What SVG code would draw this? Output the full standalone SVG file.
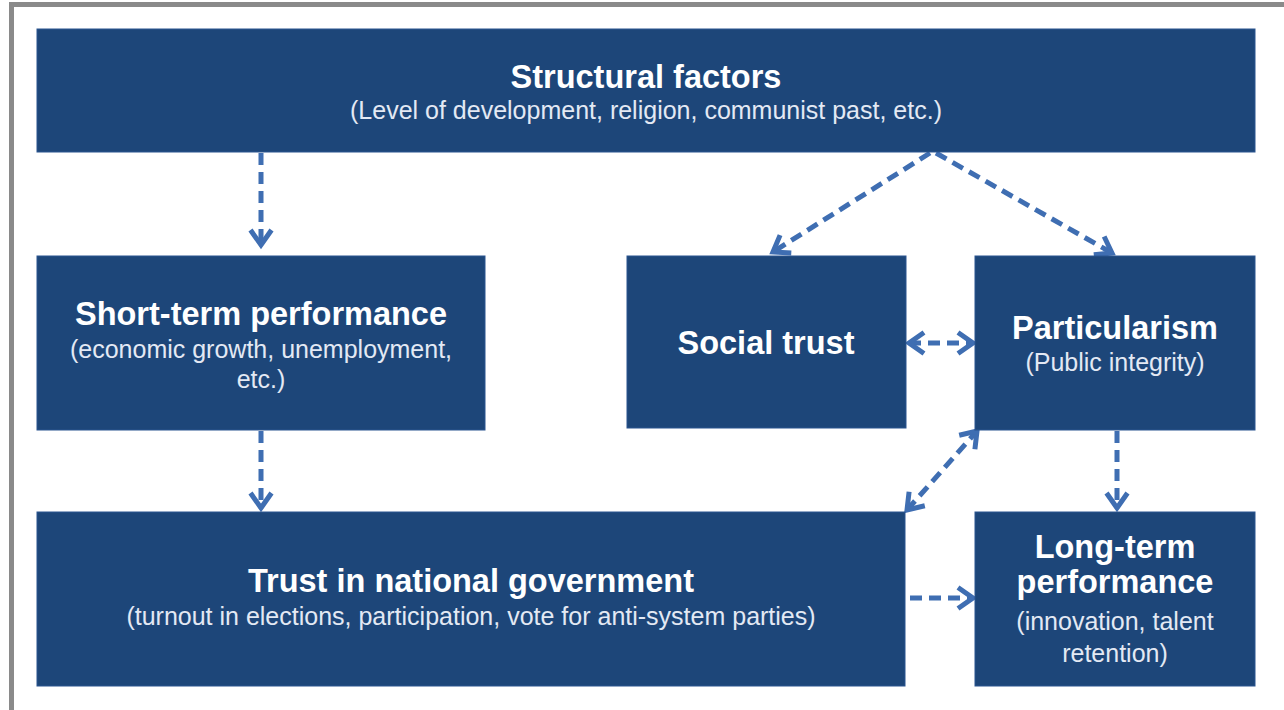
<svg xmlns="http://www.w3.org/2000/svg" width="1284" height="710" viewBox="0 0 1284 710">
<style>
.box{fill:#1d4679;stroke:#2a5590;stroke-width:1}
.t{font-family:"Liberation Sans",Arial,sans-serif;font-weight:bold;font-size:32.5px;fill:#ffffff;text-anchor:middle}
.s{font-family:"Liberation Sans",Arial,sans-serif;font-size:25px;fill:#e3e9f4;text-anchor:middle}
.c{fill:none;stroke:#3f6eb2;stroke-width:5;stroke-dasharray:12 7}
</style>
<defs>
<marker id="ah" markerUnits="userSpaceOnUse" viewBox="0 0 26 26" markerWidth="26" markerHeight="26" refX="21" refY="13" orient="auto-start-reverse">
<path d="M6,2.5 L21,13 L6,23.5" fill="none" stroke="#3f6eb2" stroke-width="5" stroke-linejoin="miter"/>
</marker>
</defs>
<rect x="0" y="0" width="1284" height="710" fill="#ffffff"/>
<rect x="9" y="2" width="1275" height="5" fill="#8a8a8a"/>
<rect x="9" y="2" width="5" height="708" fill="#8a8a8a"/>

<g id="connectors">
<path class="c" d="M261,153 V245" marker-end="url(#ah)"/>
<path class="c" d="M930,153 L773,252" marker-end="url(#ah)"/>
<path class="c" d="M936,153 L1112,253" marker-end="url(#ah)"/>
<path class="c" d="M909,343 H973" marker-start="url(#ah)" marker-end="url(#ah)"/>
<path class="c" d="M907,510 L977,431" marker-start="url(#ah)" marker-end="url(#ah)"/>
<path class="c" d="M1117,431 V508" marker-end="url(#ah)"/>
<path class="c" d="M261,431 V508" marker-end="url(#ah)"/>
<path class="c" d="M910,598 H973" marker-end="url(#ah)"/>
</g>

<g id="structural">
<rect class="box" x="37" y="29" width="1218" height="123"/>
<text class="t" x="646" y="88">Structural factors</text>
<text class="s" x="646" y="119">(Level of development, religion, communist past, etc.)</text>
</g>
<g id="short-term">
<rect class="box" x="37" y="256" width="448" height="174"/>
<text class="t" x="261" y="325">Short-term performance</text>
<text class="s" x="261" y="358">(economic growth, unemployment,</text>
<text class="s" x="261" y="388">etc.)</text>
</g>
<g id="social-trust">
<rect class="box" x="627" y="256" width="279" height="172"/>
<text class="t" x="766" y="354">Social trust</text>
</g>
<g id="particularism">
<rect class="box" x="975" y="256" width="280" height="174"/>
<text class="t" x="1115" y="339">Particularism</text>
<text class="s" x="1115" y="371">(Public integrity)</text>
</g>
<g id="trust-gov">
<rect class="box" x="37" y="512" width="868" height="174"/>
<text class="t" x="471" y="592">Trust in national government</text>
<text class="s" x="471" y="625">(turnout in elections, participation, vote for anti-system parties)</text>
</g>
<g id="long-term">
<rect class="box" x="975" y="512" width="280" height="174"/>
<text class="t" x="1115" y="558">Long-term</text>
<text class="t" x="1115" y="593">performance</text>
<text class="s" x="1115" y="630">(innovation, talent</text>
<text class="s" x="1115" y="662">retention)</text>
</g>
</svg>
